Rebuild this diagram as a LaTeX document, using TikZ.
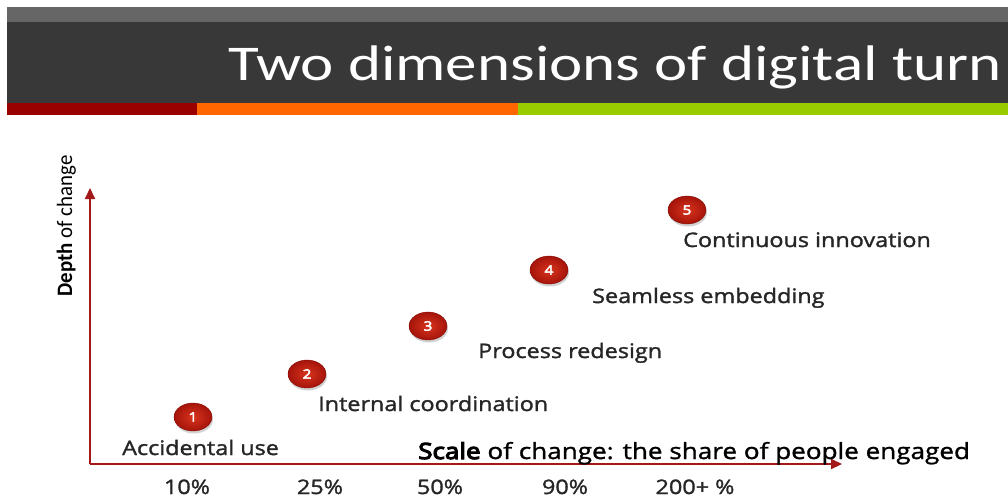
\documentclass[tikz,border=0pt]{standalone}
\usepackage{fontspec}
\setmainfont{Open Sans}[FakeStretch=1.17]
\newfontfamily\carlito{Carlito}[FakeStretch=1.26]
\newfontfamily\carlitoy{Carlito}
\newcommand{\heavytext}[2]{\special{pdf:literal direct 2 Tr #1 w}#2\special{pdf:literal direct 0 Tr}}
\usetikzlibrary{arrows.meta,shadows,shapes.geometric}
\definecolor{bandlight}{HTML}{666666}
\definecolor{banddark}{HTML}{383838}
\definecolor{barred}{HTML}{990000}
\definecolor{barorange}{HTML}{FF6600}
\definecolor{bargreen}{HTML}{99CC00}
\definecolor{axisred}{HTML}{A31818}
\definecolor{dotin}{HTML}{D8341E}
\definecolor{dotout}{HTML}{A5140A}
\definecolor{labelgray}{HTML}{262626}
\tikzset{
  axis/.style={draw=axisred, line width=2pt, -{Triangle[length=11pt,width=10pt]}},
  dot/.style={ellipse, minimum width=38pt, minimum height=28pt, inner sep=0pt,
    inner color=dotin, outer color=dotout, draw=dotout!80!black, line width=0.4pt,
    text=white, font=\fontsize{13}{13}\selectfont,
    drop shadow={opacity=0.35, shadow xshift=1pt, shadow yshift=-2.5pt}},
  lab/.style={anchor=base west, inner sep=0pt, text=labelgray, font=\fontsize{20}{21}\selectfont},
  tick/.style={anchor=base, inner sep=0pt, text=labelgray, font=\fontsize{20}{21}\selectfont}
}
\begin{document}
\begin{tikzpicture}[x=1pt,y=-1pt]
\useasboundingbox (0,0) rectangle (1008,498);
\fill[white] (0,0) rectangle (1008,498);
% header
\fill[bandlight] (7,7) rectangle (1008,22);
\fill[banddark] (7,22) rectangle (1008,103);
\fill[barred] (7,103) rectangle (197,115);
\fill[barorange] (197,103) rectangle (518,115);
\fill[bargreen] (518,103) rectangle (1008,115);
\node[anchor=base west, inner sep=0pt, text=white, font=\carlito\fontsize{50}{50}\selectfont] (title) at (228,80) {Two dimensions of digital turn};
% axes
\coordinate (O) at (90,464);
\coordinate (ytop) at (90,188);
\coordinate (xend) at (842,464);
\draw[axis] (O) -- (ytop);
\draw[axis] (O) -- (xend);
\node[rotate=90, anchor=base, inner sep=0pt, text=black, font=\carlitoy\fontsize{22}{22}\selectfont, xscale=0.95] (ylab) at (72,226) {\textbf{Depth} of change};
% stages
\node[dot] (d1) at (193,417) {\heavytext{0.5}{1}};
\node[dot] (d2) at (307,374) {\heavytext{0.5}{2}};
\node[dot] (d3) at (428,326) {\heavytext{0.5}{3}};
\node[dot] (d4) at (549,270) {\heavytext{0.5}{4}};
\node[dot] (d5) at (687,210) {\heavytext{0.5}{5}};
\node[lab] (l1) at (122,455) {\heavytext{0.3}{Accidental use}};
\node[lab] (l2) at (318,411) {\heavytext{0.3}{Internal coordination}};
\node[lab] (l3) at (478,358) {\heavytext{0.3}{Process redesign}};
\node[lab] (l4) at (592,303) {\heavytext{0.3}{Seamless embedding}};
\node[lab] (l5) at (683,247) {\heavytext{0.3}{Continuous innovation}};
\node[lab, text=black, font=\fontsize{22.3}{23}\selectfont] (xlab) at (418,459) {\heavytext{1.1}{Scale}\heavytext{0.3}{ of change: the share of people engaged}};
% ticks
\node[tick] (t1) at (187,494) {\heavytext{0.3}{10\%}};
\node[tick] (t2) at (320,494) {\heavytext{0.3}{25\%}};
\node[tick] (t3) at (440,494) {\heavytext{0.3}{50\%}};
\node[tick] (t4) at (565,494) {\heavytext{0.3}{90\%}};
\node[tick] (t5) at (695,494) {\heavytext{0.3}{200+ \%}};
\end{tikzpicture}
\end{document}
